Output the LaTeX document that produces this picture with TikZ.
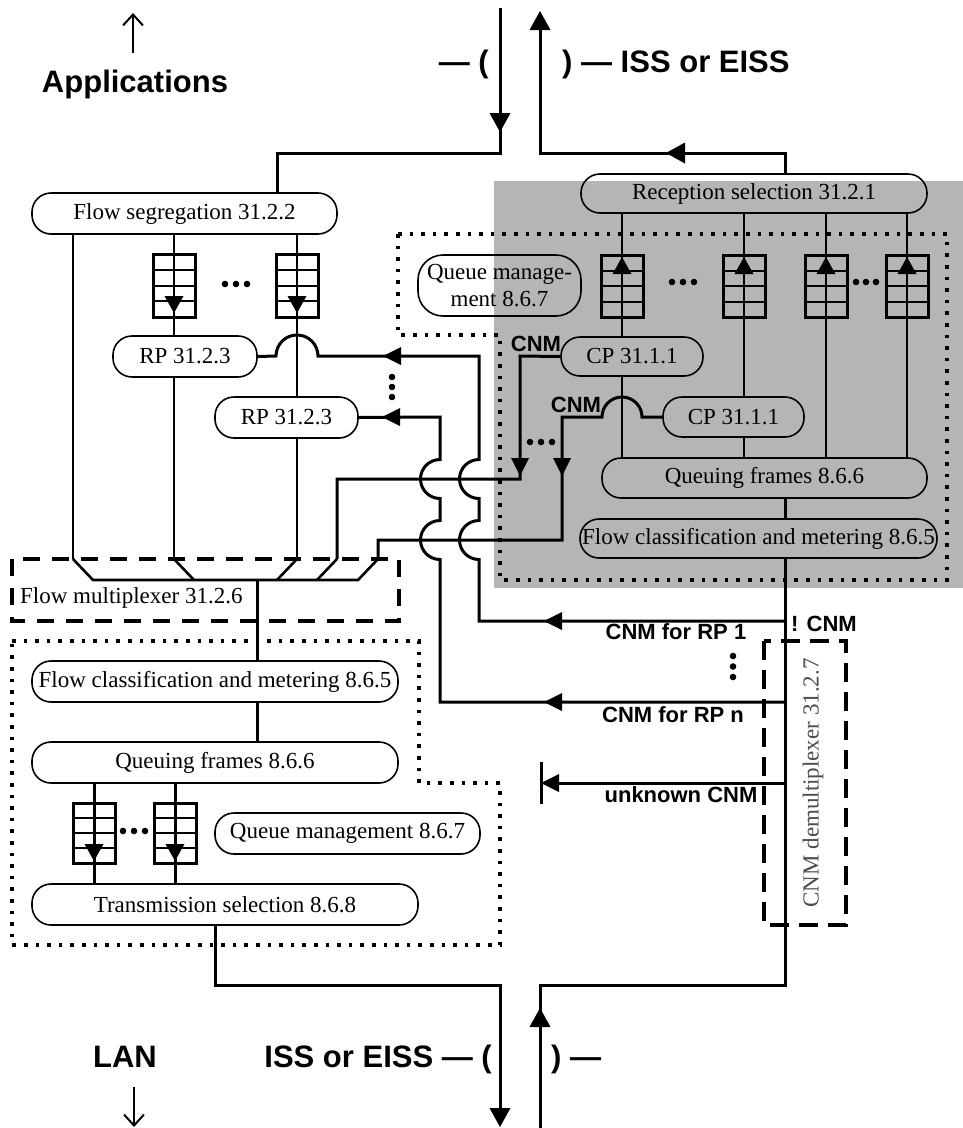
\documentclass[tikz,border=0pt]{standalone}
\usepackage{fontspec}
\setmainfont{Liberation Serif}
\setsansfont{Liberation Sans}
\usetikzlibrary{arrows.meta}
% arrow heads (tip x, tip y), picture uses y downward
\newcommand\ArrD[2]{\fill (#1,#2) -- ++(-9,-18) -- ++(18,0) -- cycle;}
\newcommand\ArrU[2]{\fill (#1,#2) -- ++(-9,18) -- ++(18,0) -- cycle;}
\newcommand\ArrL[2]{\fill (#1,#2) -- ++(18,-9) -- ++(0,18) -- cycle;}
\newcommand\BigD[2]{\fill (#1,#2) -- ++(-10.5,-19) -- ++(21,0) -- cycle;}
\newcommand\BigU[2]{\fill (#1,#2) -- ++(-10.5,19) -- ++(21,0) -- cycle;}
\newcommand\BigL[2]{\fill (#1,#2) -- ++(19,-10.5) -- ++(0,21) -- cycle;}
\newcommand\SD[2]{\fill (#1,#2) -- ++(-9.5,-17) -- ++(19,0) -- cycle;}
\newcommand\SU[2]{\fill (#1,#2) -- ++(-9.5,17) -- ++(19,0) -- cycle;}
% queue grid: name, centre x, top y, bottom y
\newcommand\QGrid[4]{%
  \foreach \k in {1,2,3}{\draw[gridline] ({#2-21},{#3+(#4-#3)*\k/4}) -- ({#2+21},{#3+(#4-#3)*\k/4});}
  \draw[gridline] (#2,#3) -- (#2,#4);
  \node[qgrid, minimum height={(#4-#3)*1pt}] (#1) at (#2,{(#3+#4)/2}) {};}
\newcommand\Dots[2]{\fill (#1,#2) circle[radius=3.3];}
\begin{document}
\begin{tikzpicture}[x=1pt,y=-1pt,
  box/.style={draw, line width=1.6pt, rounded corners=19pt, inner sep=0pt,
    font=\fontsize{23}{27}\selectfont, align=center},
  thinln/.style={line width=2pt},
  thickln/.style={line width=3pt},
  muxln/.style={line width=2.6pt},
  gridline/.style={line width=2pt},
  qgrid/.style={draw, line width=3pt, minimum width=42pt, inner sep=0pt},
  dotbox/.style={line width=3.6pt, dash pattern=on 3.6pt off 8pt},
  dashbox/.style={line width=3.2pt, dash pattern=on 17pt off 12pt},
  dashboxv/.style={line width=3.2pt, dash pattern=on 19pt off 10pt},
  lbl/.style={font=\sffamily\bfseries\fontsize{31}{34}\selectfont, inner sep=0pt},
  cnm/.style={font=\sffamily\bfseries\fontsize{22}{24}\selectfont, inner sep=0pt},
  plain/.style={font=\fontsize{23}{27}\selectfont, inner sep=0pt},
]
\useasboundingbox (0,0) rectangle (963,1128);
\fill[white] (0,0) rectangle (963,1128);

% shaded bridge port area
\fill[black!29] (494,181) rectangle (963,588);

% dotted regions
\draw[dotbox] (398,234) -- (947,234) -- (947,580) -- (500,580) -- (500,335) -- (398,335) -- cycle;
\draw[dotbox] (12,641) -- (419,641) -- (419,783) -- (500,783) -- (500,945) -- (12,945) -- cycle;

% dashed boxes
\draw[dashbox] (12,559) rectangle (399,621);
\draw[dashboxv] (764,641) rectangle (846,925);
\node[plain, anchor=base west] (muxlbl) at (20,603) {Flow multiplexer 31.2.6};
\node[plain, rotate=90, text=black!70] (demuxlbl) at (813,783) {CNM demultiplexer 31.2.7};

% boxes
\node[box, minimum width=305pt, minimum height=41pt] (fseg) at (184.5,213.5) {Flow segregation 31.2.2};
\node[box, minimum width=144pt, minimum height=41pt] (rp1) at (185,356.5) {RP 31.2.3};
\node[box, minimum width=143pt, minimum height=41pt] (rp2) at (286.5,417.5) {RP 31.2.3};
\node[box, minimum width=346pt, minimum height=39pt] (recsel) at (754,193.5) {Reception selection 31.2.1};
\node[box, minimum width=163pt, minimum height=61pt, rounded corners=25pt] (qm1) at (499.5,285.5) {Queue manage-\\ment 8.6.7};
\node[box, minimum width=142pt, minimum height=39pt] (cp1) at (632,356.5) {CP 31.1.1};
\node[box, minimum width=141pt, minimum height=40pt] (cp2) at (733.5,417) {CP 31.1.1};
\node[box, minimum width=325pt, minimum height=40pt] (qf1) at (764.5,478) {Queuing frames 8.6.6};
\node[box, minimum width=357pt, minimum height=39pt] (fc1) at (758.5,538.5) {Flow classification and metering 8.6.5};
\node[box, minimum width=366pt, minimum height=41pt] (fc2) at (215,681.5) {Flow classification and metering 8.6.5};
\node[box, minimum width=366pt, minimum height=41pt] (qf2) at (215,762.5) {Queuing frames 8.6.6};
\node[box, minimum width=265pt, minimum height=41pt] (qm2) at (347.5,833.5) {Queue management 8.6.7};
\node[box, minimum width=386pt, minimum height=41pt] (ts) at (225,904.5) {Transmission selection 8.6.8};

% top interface
\draw[thickln] (500,8) -- (500,153) -- (277,153) -- (277,0 |- fseg.north);
\BigD{500}{132}
\draw[thickln] (785,0 |- recsel.north) -- (785,153) -- (540,153) -- (540,26);
\BigU{540}{11}
\BigL{666}{153}

% flow segregation outputs
\draw[thinln] (73,0 |- fseg.south) -- (73,559);
\draw[thinln] (174,0 |- fseg.south) -- (174,0 |- rp1.north);
\draw[thinln] (174,0 |- rp1.south) -- (174,559);
\draw[thinln] (297,0 |- fseg.south) -- (297,0 |- rp2.north);
\draw[thinln] (297,0 |- rp2.south) -- (297,559);
\QGrid{ql1}{174}{254}{317}
\QGrid{ql2}{297}{254}{317}
\SD{174}{313}
\SD{297}{313}
\Dots{225}{284}\Dots{236}{284}\Dots{247}{284}

% flow multiplexer
\draw[muxln] (73,559) -- (93,580) -- (358,580) -- (378,559);
\draw[muxln] (174,559) -- (194,580);
\draw[muxln] (297,559) -- (277,580);
\draw[muxln] (337,559) -- (317,580);
\draw[thickln] (257,580) -- (257,0 |- fc2.north);
\draw[thickln] (257,0 |- fc2.south) -- (257,0 |- qf2.north);

% lower transmission path
\draw[thickln] (94,0 |- qf2.south) -- (94,0 |- ts.north);
\draw[thickln] (175,0 |- qf2.south) -- (175,0 |- ts.north);
\QGrid{qb1}{94}{803}{863}
\QGrid{qb2}{175}{803}{863}
\SD{94}{861}
\SD{175}{861}
\Dots{123}{831}\Dots{134}{831}\Dots{145}{831}
\draw[thickln] (215,0 |- ts.south) -- (215,985) -- (500,985) -- (500,1110);
\BigD{500}{1127}

% receive path
\draw[thickln] (540,1128) -- (540,985) -- (785,985) -- (785,0 |- fc1.south);
\BigU{540}{1008}
\draw[thickln] (785,0 |- qf1.south) -- (785,0 |- fc1.north);
\draw[muxln] (622,0 |- recsel.south) -- (622,0 |- cp1.north);
\draw[muxln] (622,0 |- cp1.south) -- (622,0 |- qf1.north);
\draw[muxln] (744,0 |- recsel.south) -- (744,0 |- cp2.north);
\draw[muxln] (744,0 |- cp2.south) -- (744,0 |- qf1.north);
\draw[muxln] (826,0 |- recsel.south) -- (826,0 |- qf1.north);
\draw[muxln] (907,0 |- recsel.south) -- (907,0 |- qf1.north);
\QGrid{qu1}{622}{255}{317}
\QGrid{qu2}{744}{255}{317}
\QGrid{qu3}{826}{255}{317}
\QGrid{qu4}{907}{255}{317}
\SU{622}{257}\SU{744}{257}\SU{826}{257}\SU{907}{257}
\Dots{672}{282}\Dots{683}{282}\Dots{694}{282}
\Dots{856}{282}\Dots{866}{282}\Dots{876}{282}

% CNM from congestion points
\draw[thickln] (cp1.west) -- (520,356) -- (520,479) -- (337,479) -- (337,559);
\ArrD{520}{476}
\draw[thickln] (cp2.west) -- (642,417) arc[start angle=0, end angle=-180, radius=20] -- (562,417) -- (562,540) -- (378,540) -- (378,559);
\ArrD{562}{476}
\Dots{530}{442}\Dots{541}{442}\Dots{552}{442}
\node[cnm] (cnma) at (536,343.5) {CNM};
\node[cnm] (cnmb) at (576,405) {CNM};

% CNM demultiplexer outputs to reaction points
\draw[thickln] (785,621) -- (479,621) -- (479,559.5)
  arc[start angle=90, end angle=270, radius=19.5] -- (479,498.5)
  arc[start angle=90, end angle=270, radius=19.5] -- (479,356) -- (318,356)
  arc[start angle=0, end angle=-180, radius=21] -- (rp1.east);
\ArrL{383}{356}
\ArrL{544}{621}
\draw[thickln] (785,702) -- (440,702) -- (440,559.5)
  arc[start angle=90, end angle=270, radius=19.5] -- (440,498.5)
  arc[start angle=90, end angle=270, radius=19.5] -- (440,417) -- (rp2.east);
\ArrL{382}{417}
\ArrL{544}{702}
\fill (392,377) circle[radius=3.3]; \fill (392,387) circle[radius=3.3]; \fill (392,397) circle[radius=3.3];
\draw[thickln] (785,783) -- (552,783);
\ArrL{541}{783}
\draw[thickln] (541,762) -- (541,804);
\fill (733,656) circle[radius=3.3]; \fill (733,666.5) circle[radius=3.3]; \fill (733,677) circle[radius=3.3];
\node[cnm] (notcnm) at (824,623.5) {! CNM};
\node[cnm] (rp1lbl) at (676,632) {CNM for RP 1};
\node[cnm] (rpnlbl) at (673,715) {CNM for RP n};
\node[cnm] (unklbl) at (681,795) {unknown CNM};

% outer labels
\node[lbl, anchor=base] (apps) at (135,92) {Applications};
\draw[line width=2pt, -{Straight Barb[length=11pt,width=20pt]}] (133,53) -- (133,13);
\node[lbl, anchor=base east] (topl) at (489,72) {— (};
\node[lbl, anchor=base west] (topr) at (562,72) {) — ISS or EISS};
\node[lbl, anchor=base] (lan) at (125,1067) {LAN};
\draw[line width=2pt, -{Straight Barb[length=11pt,width=20pt]}] (134,1087) -- (134,1127);
\node[lbl, anchor=base east] (botl) at (492,1067) {ISS or EISS — (};
\node[lbl, anchor=base west] (botr) at (551,1067) {) —};
\end{tikzpicture}
\end{document}
